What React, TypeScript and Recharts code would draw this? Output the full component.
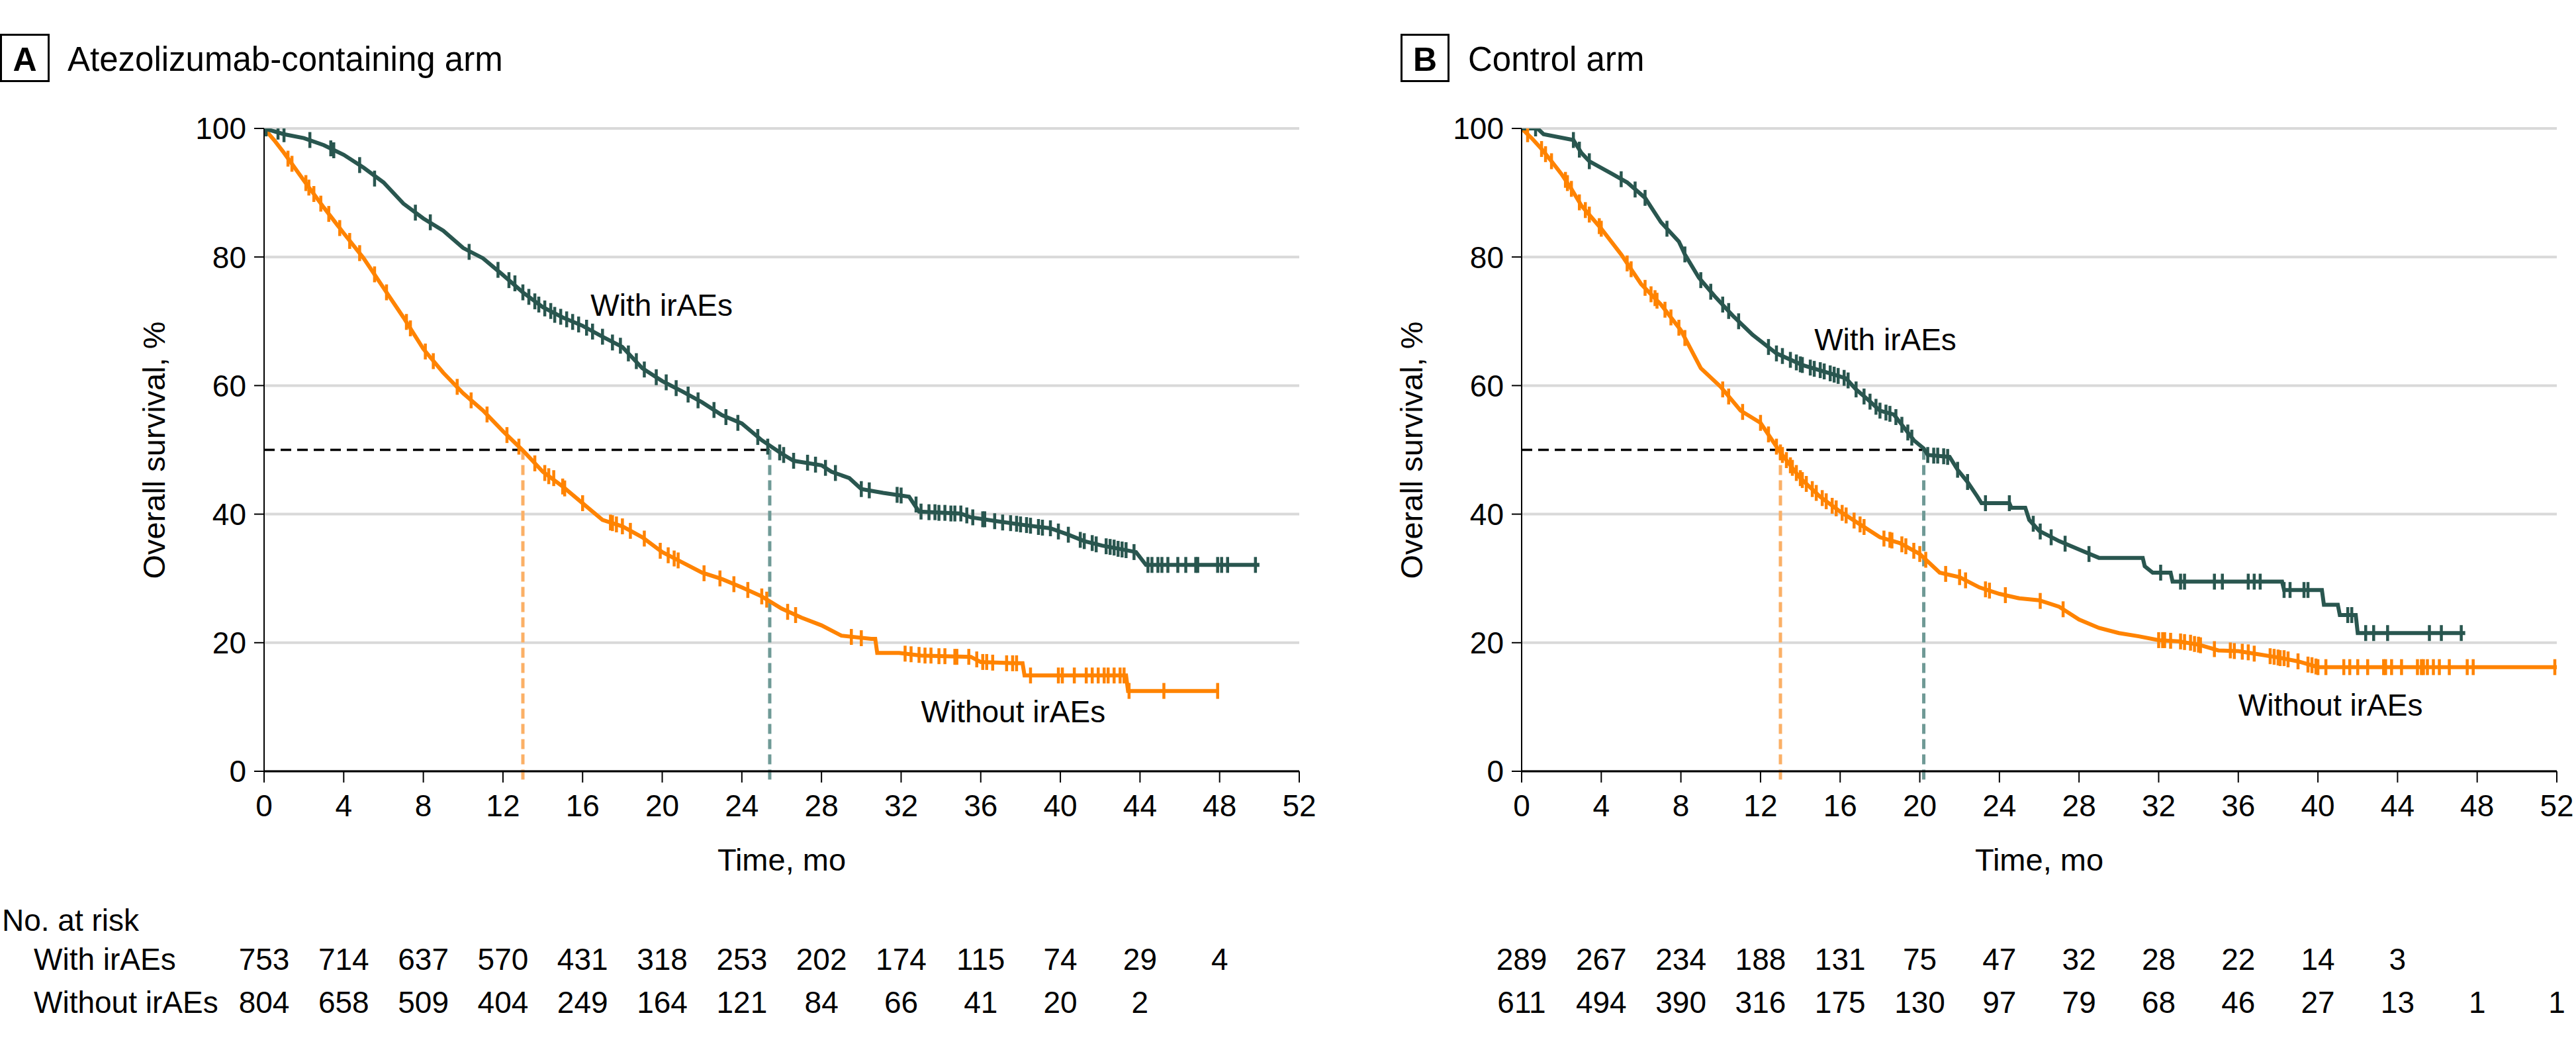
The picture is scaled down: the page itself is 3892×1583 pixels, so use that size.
import React from "react";
import {
  ComposedChart, Line, Scatter, XAxis, YAxis, CartesianGrid, ReferenceLine, ReferenceDot,
} from "recharts";

const FONT = '"Liberation Sans", Arial, sans-serif';
const TEAL = "#29564f";
const ORANGE = "#ff8300";
const TEAL_DASH = "#6f9a96";
const ORANGE_DASH = "#fbb066";

const MONTHS = [0, 4, 8, 12, 16, 20, 24, 28, 32, 36, 40, 44, 48, 52];
const PCT = [0, 20, 40, 60, 80, 100];

// Kaplan-Meier curves: [month, % surviving]
const atezoWith: [number, number][] = [
  [0, 100], [1, 99.1], [2, 98.5], [3, 97.4], [4, 95.9], [5, 93.9], [6, 91.6], [7, 88.3], [8, 86.0],
  [9, 84.1], [10, 81.4], [11, 79.8], [12, 77.2], [13, 74.5], [14, 72.2], [15, 70.6], [16, 69.3],
  [17, 67.6], [18, 66.0], [19, 62.7], [20, 60.7], [21, 59.1], [22, 57.4], [23, 55.4], [24, 54.1],
  [25, 51.5], [26, 49.4], [26.6, 48.3], [28, 47.6], [28.5, 46.6], [29.4, 45.6], [30, 43.9],
  [31.1, 43.3], [32.4, 42.7], [32.9, 40.4], [35, 40.1], [35.5, 39.5], [36.8, 38.9], [38.2, 38.3],
  [39.5, 37.8], [40.4, 36.8], [41.2, 35.8], [42.1, 35.1], [43.8, 34.1], [44.3, 32.1], [50, 32.1],
];
const atezoWithout: [number, number][] = [
  [0, 100], [0.5, 98.2], [1, 96.2], [2, 91.9], [3, 87.7], [4, 83.7], [5, 79.8], [6, 75.2], [7, 70.6],
  [8, 65.7], [9, 62.0], [10, 58.8], [11, 56.1], [12, 52.9], [13, 49.9], [14, 46.6], [15, 44.3],
  [16, 41.7], [17, 39.1], [18, 38.1], [19, 36.4], [20, 34.1], [21, 32.5], [22, 30.9], [23, 29.9],
  [24, 28.6], [25, 27.2], [26, 25.3], [27, 23.9], [28, 22.7], [29, 21.1], [30.5, 20.6], [30.7, 20.6],
  [30.8, 18.4], [31.9, 18.4], [33, 18.0], [35.5, 17.8], [36, 17.0], [37.8, 16.8], [38.1, 16.8],
  [38.2, 14.9], [43.3, 14.9], [43.4, 12.5], [47.9, 12.5],
];
const controlWith: [number, number][] = [
  [0, 100], [0.8, 100], [1.1, 99.1], [2.6, 98.2], [3.0, 96.2], [3.4, 94.9], [4.5, 93.0], [5.3, 91.6],
  [6.2, 89.2], [7.0, 85.4], [7.9, 82.4], [8.2, 80.4], [8.9, 76.8], [9.7, 73.9], [10.6, 70.9],
  [11.6, 67.9], [12.8, 65.0], [14.1, 63.2], [15.7, 61.7], [16.3, 61.1], [16.8, 59.4], [17.4, 57.8],
  [18.0, 56.1], [18.7, 55.5], [19.2, 53.5], [19.7, 51.5], [20.2, 50.2], [20.4, 49.2], [21.5, 48.9],
  [21.9, 46.9], [22.4, 45.0], [22.9, 42.7], [23.1, 41.7], [24.5, 41.7], [24.6, 41.0], [25.3, 41.0],
  [25.5, 39.1], [26, 37.4], [27, 35.8], [28, 34.5], [29, 33.2], [31.2, 33.2], [31.3, 31.9],
  [31.7, 30.9], [32.6, 30.9], [32.7, 29.5], [38.2, 29.5], [38.3, 28.2], [40.2, 28.2], [40.3, 25.9],
  [41.0, 25.9], [41.1, 24.3], [41.9, 24.3], [42.0, 21.5], [47.4, 21.5],
];
const controlWithout: [number, number][] = [
  [0, 100], [0.5, 98.5], [1, 96.8], [1.5, 94.9], [2, 92.9], [2.5, 90.6], [3, 88.0], [4, 84.4],
  [5, 80.4], [6, 75.8], [7, 72.6], [8, 68.6], [9, 62.7], [10, 59.8], [11, 56.1], [12, 54.2],
  [13, 49.6], [14, 45.6], [15, 42.7], [16, 40.4], [17, 38.4], [18, 36.4], [19, 35.5], [20, 33.8],
  [21, 30.9], [22, 30.2], [23, 28.6], [24, 27.6], [25, 26.9], [26, 26.6], [27, 25.6], [28, 23.6],
  [29, 22.3], [30, 21.5], [31, 21.0], [32, 20.4], [33, 20.2], [34, 19.7], [35, 18.8], [36, 18.7],
  [37, 18.2], [38, 17.7], [39, 17.1], [40, 16.2], [52, 16.2],
];

// censored observations (tick marks): [month, %]
const atezoWithCens: [number, number][] = [
  [0.1, 100], [0.7, 99.5], [1.0, 99.1], [2.3, 98.2], [3.35, 96.9], [3.5, 96.6], [4.8, 94.3],
  [5.55, 92.2], [7.6, 86.9], [8.35, 85.4], [10.3, 80.8], [11.75, 78.0], [12.3, 76.4], [12.6, 75.9],
  [13.0, 74.5], [13.3, 73.8], [13.6, 73.1], [13.8, 72.6], [14.1, 72.0], [14.4, 71.6], [14.6, 71.0],
  [14.9, 70.7], [15.2, 70.3], [15.5, 69.9], [15.8, 69.5], [16.2, 69.0], [16.5, 68.4], [17.0, 67.6],
  [17.5, 66.7], [17.9, 66.2], [18.3, 65.0], [18.7, 63.8], [19.1, 62.5], [19.7, 61.3], [20.2, 60.5],
  [20.7, 59.6], [21.3, 58.6], [21.8, 57.7], [22.6, 56.2], [23.2, 55.1], [23.8, 54.2], [24.8, 52.0],
  [25.3, 50.5], [25.9, 49.6], [26.1, 49.2], [26.6, 48.3], [27.3, 48.0], [27.7, 47.7], [28.2, 47.2],
  [28.7, 46.4], [30.0, 43.9], [30.4, 43.7], [31.8, 43.0], [32.0, 42.9], [32.75, 41.5], [33.0, 40.4],
  [33.4, 40.3], [33.7, 40.3], [33.9, 40.2], [34.2, 40.2], [34.5, 40.1], [34.7, 40.1], [35.0, 40.1],
  [35.3, 39.8], [35.6, 39.5], [36.1, 39.2], [36.2, 39.2], [36.7, 38.9], [37.1, 38.7], [37.5, 38.6],
  [37.8, 38.5], [38.0, 38.4], [38.3, 38.3], [38.5, 38.2], [38.9, 38.0], [39.1, 37.9], [39.5, 37.8],
  [39.9, 37.3], [40.4, 36.8], [41.0, 36.0], [41.2, 35.8], [41.6, 35.5], [41.8, 35.3], [42.3, 35.0],
  [42.5, 34.9], [42.7, 34.8], [42.9, 34.6], [43.1, 34.5], [43.3, 34.4], [43.7, 34.1], [44.4, 32.1],
  [44.6, 32.1], [44.9, 32.1], [45.1, 32.1], [45.4, 32.1], [45.9, 32.1], [46.3, 32.1], [46.8, 32.1],
  [46.9, 32.1], [47.9, 32.1], [48.1, 32.1], [48.4, 32.1], [49.8, 32.1],
];
const atezoWithoutCens: [number, number][] = [
  [1.2, 95.3], [1.4, 94.5], [2.1, 91.5], [2.25, 90.8], [2.5, 89.8], [2.85, 88.3], [3.25, 86.7],
  [3.8, 84.5], [4.3, 82.5], [4.8, 80.6], [5.55, 77.3], [6.15, 74.5], [7.15, 69.9], [7.35, 68.9],
  [8.1, 65.3], [8.5, 63.8], [9.7, 59.8], [10.4, 57.7], [11.2, 55.5], [12.2, 52.3], [12.8, 50.5],
  [13.6, 47.9], [14.1, 46.4], [14.3, 45.9], [14.55, 45.6], [15.0, 44.3], [15.1, 44.0], [16.0, 41.7],
  [17.4, 38.7], [17.5, 38.6], [17.7, 38.4], [18.0, 38.1], [18.4, 37.4], [19.1, 36.2], [19.9, 34.3],
  [20.3, 33.6], [20.6, 33.1], [20.8, 32.8], [22.1, 30.8], [22.9, 30.0], [23.6, 29.1], [24.3, 28.2],
  [25.0, 27.2], [25.25, 26.7], [26.3, 24.8], [26.7, 24.3], [29.5, 20.9], [30.0, 20.7], [32.2, 18.3],
  [32.5, 18.2], [32.9, 18.1], [33.2, 18.0], [33.5, 18.0], [33.9, 17.9], [34.2, 17.9], [34.7, 17.8],
  [34.8, 17.8], [35.4, 17.8], [35.8, 17.4], [36.1, 17.0], [36.3, 17.0], [36.6, 16.9], [37.3, 16.8],
  [37.6, 16.8], [37.8, 16.8], [38.5, 14.9], [39.9, 14.9], [40.1, 14.9], [40.7, 14.9], [41.3, 14.9],
  [41.6, 14.9], [41.9, 14.9], [42.2, 14.9], [42.4, 14.9], [42.7, 14.9], [43.0, 14.9], [43.2, 14.9],
  [43.45, 12.5], [45.2, 12.5], [47.9, 12.5],
];
const controlWithCens: [number, number][] = [
  [0.7, 100], [2.6, 98.2], [2.9, 96.7], [3.4, 94.9], [5.0, 92.1], [5.7, 90.5], [6.2, 89.2],
  [7.3, 84.4], [8.2, 80.4], [9.0, 76.4], [9.5, 74.6], [10.1, 72.6], [10.4, 71.6], [10.9, 70.0],
  [12.4, 66.0], [12.8, 65.0], [13.1, 64.6], [13.5, 64.0], [13.8, 63.6], [14.0, 63.3], [14.1, 63.2],
  [14.5, 62.8], [14.7, 62.6], [15.0, 62.4], [15.2, 62.2], [15.5, 61.9], [15.7, 61.7], [15.9, 61.5],
  [16.2, 61.2], [16.4, 60.8], [16.8, 59.4], [17.2, 58.3], [17.5, 57.5], [17.8, 56.7], [18.0, 56.1],
  [18.3, 55.8], [18.5, 55.6], [18.8, 55.1], [19.1, 53.9], [19.4, 52.7], [19.6, 51.9], [20.4, 49.2],
  [20.7, 49.1], [20.9, 49.1], [21.2, 49.0], [21.4, 48.9], [21.9, 46.9], [22.4, 45.0], [23.3, 41.7],
  [24.5, 41.7], [25.7, 38.5], [26.05, 37.3], [26.6, 36.4], [27.3, 35.4], [28.5, 33.8], [32.1, 30.9],
  [33.1, 29.5], [33.3, 29.5], [34.8, 29.5], [35.2, 29.5], [36.5, 29.5], [36.8, 29.5], [37.1, 29.5],
  [38.3, 28.2], [38.6, 28.2], [39.3, 28.2], [39.5, 28.2], [41.5, 24.3], [41.7, 24.3], [42.4, 21.5],
  [42.8, 21.5], [43.5, 21.5], [45.6, 21.5], [46.2, 21.5], [47.2, 21.5],
];
const controlWithoutCens: [number, number][] = [
  [0.3, 99.1], [1.0, 96.8], [1.2, 96.0], [1.5, 94.9], [2.2, 92.0], [2.3, 91.5], [2.5, 90.6],
  [2.9, 88.5], [3.2, 87.3], [3.4, 86.6], [3.9, 84.8], [4.0, 84.4], [5.3, 79.0], [5.5, 78.1],
  [6.2, 75.2], [6.5, 74.2], [6.7, 73.6], [6.8, 73.2], [7.2, 71.8], [7.5, 70.6], [7.9, 69.0],
  [8.2, 67.4], [10.1, 59.4], [10.4, 58.3], [11.1, 55.9], [12.0, 54.2], [12.4, 52.4], [12.8, 50.5],
  [13.0, 49.6], [13.1, 49.2], [13.3, 48.4], [13.5, 47.6], [13.6, 47.2], [13.8, 46.4], [14.0, 45.6],
  [14.1, 45.3], [14.3, 44.7], [14.6, 43.9], [14.8, 43.3], [15.1, 42.5], [15.3, 42.0], [15.6, 41.3],
  [15.8, 40.9], [16.1, 40.2], [16.3, 39.8], [16.7, 39.0], [17.0, 38.4], [17.2, 38.0], [18.2, 36.2],
  [18.5, 36.0], [18.6, 35.9], [19.1, 35.3], [19.3, 35.0], [19.7, 34.3], [20.0, 33.8], [20.3, 32.9],
  [21.3, 30.7], [22.0, 30.2], [22.3, 29.7], [23.3, 28.3], [23.5, 28.1], [24.3, 27.4], [26.05, 26.5],
  [27.2, 25.2], [32.0, 20.4], [32.2, 20.4], [32.3, 20.4], [32.6, 20.3], [33.1, 20.2], [33.3, 20.1],
  [33.6, 20.0], [33.8, 19.8], [34.0, 19.7], [34.1, 19.6], [34.8, 19.0], [35.6, 18.8], [35.8, 18.7],
  [36.2, 18.6], [36.5, 18.5], [36.8, 18.3], [37.6, 17.9], [37.8, 17.8], [38.0, 17.7], [38.1, 17.6],
  [38.3, 17.6], [38.5, 17.4], [39.0, 17.1], [39.5, 16.6], [39.7, 16.5], [39.9, 16.3], [40.0, 16.2],
  [40.4, 16.2], [41.3, 16.2], [41.6, 16.2], [42.0, 16.2], [42.5, 16.2], [43.3, 16.2], [43.4, 16.2],
  [43.7, 16.2], [44.2, 16.2], [45.0, 16.2], [45.2, 16.2], [45.3, 16.2], [45.5, 16.2], [45.8, 16.2],
  [46.1, 16.2], [46.6, 16.2], [47.5, 16.2], [47.8, 16.2], [51.9, 16.2],
];

// number at risk, every 4 months
const riskAtezoWith = [753, 714, 637, 570, 431, 318, 253, 202, 174, 115, 74, 29, 4];
const riskAtezoWithout = [804, 658, 509, 404, 249, 164, 121, 84, 66, 41, 20, 2];
const riskControlWith = [289, 267, 234, 188, 131, 75, 47, 32, 28, 22, 14, 3];
const riskControlWithout = [611, 494, 390, 316, 175, 130, 97, 79, 68, 46, 27, 13, 1, 1];

// median OS, months
const medAtezo = { with: 25.4, without: 13.0 };
const medControl = { with: 20.2, without: 13.0 };

const rows = (a: [number, number][]) => a.map(([t, s]) => ({ t, s }));

const censorShape = (color: string) => (p: any) => (
  <line x1={p.cx} x2={p.cx} y1={p.cy - 12} y2={p.cy + 12} stroke={color} strokeWidth={4.5} />
);

const curveLabel = (txt: string) => (p: any) => (
  <text x={p.cx} y={p.cy} fontSize={46} fill="#000" textAnchor="start">{txt}</text>
);

function Panel(props: any) {
  const {
    left, width, mLeft, mRight, withCurve, withoutCurve, withCens, withoutCens,
    riskWith, riskWithout, med, withPos, withoutPos,
  } = props;
  const tick = { fontSize: 46, fill: "#000" };
  return (
    <div style={{ position: "absolute", left, top: 0, fontFamily: FONT }}>
      <ComposedChart width={width} height={1583} margin={{ top: 194, right: mRight, bottom: 28, left: mLeft }}>
        <CartesianGrid vertical={false} stroke="#d9d9d9" strokeWidth={4} />
        <XAxis
          dataKey="t" type="number" domain={[0, 52]} ticks={MONTHS} interval={0} allowDataOverflow
          height={260} tickSize={17} tickMargin={18} tick={tick}
          axisLine={{ stroke: "#000", strokeWidth: 3 }} tickLine={{ stroke: "#000", strokeWidth: 2 }}
        />
        <XAxis
          xAxisId="r1" dataKey="t" type="number" domain={[0, 52]} allowDataOverflow interval={0}
          ticks={MONTHS.slice(0, riskWith.length)} tickFormatter={(v: number) => String(riskWith[v / 4])}
          height={65} axisLine={false} tickLine={false} tickSize={0} tickMargin={7} tick={tick}
        />
        <XAxis
          xAxisId="r2" dataKey="t" type="number" domain={[0, 52]} allowDataOverflow interval={0}
          ticks={MONTHS.slice(0, riskWithout.length)} tickFormatter={(v: number) => String(riskWithout[v / 4])}
          height={65} axisLine={false} tickLine={false} tickSize={0} tickMargin={7} tick={tick}
        />
        <YAxis
          dataKey="s" type="number" domain={[0, 100]} ticks={PCT} interval={0} allowDataOverflow
          width={120} tickSize={15} tickMargin={12} tick={tick}
          axisLine={{ stroke: "#000", strokeWidth: 2 }} tickLine={{ stroke: "#000", strokeWidth: 2 }}
        />
        <ReferenceLine
          segment={[{ x: 0, y: 50 }, { x: med.with, y: 50 }]} ifOverflow="visible"
          stroke="#000" strokeWidth={3.5} strokeDasharray="16 9"
        />
        <ReferenceLine
          segment={[{ x: med.without, y: 50 }, { x: med.without, y: -1.4 }]} ifOverflow="visible"
          stroke={ORANGE_DASH} strokeWidth={5} strokeDasharray="15 8"
        />
        <ReferenceLine
          segment={[{ x: med.with, y: 50 }, { x: med.with, y: -1.4 }]} ifOverflow="visible"
          stroke={TEAL_DASH} strokeWidth={5} strokeDasharray="15 8"
        />
        <Line data={rows(withoutCurve)} dataKey="s" type="linear" stroke={ORANGE} strokeWidth={6} dot={false} isAnimationActive={false} />
        <Line data={rows(withCurve)} dataKey="s" type="linear" stroke={TEAL} strokeWidth={6} dot={false} isAnimationActive={false} />
        <Scatter data={rows(withoutCens)} dataKey="s" shape={censorShape(ORANGE)} isAnimationActive={false} />
        <Scatter data={rows(withCens)} dataKey="s" shape={censorShape(TEAL)} isAnimationActive={false} />
        <ReferenceDot x={withPos[0]} y={withPos[1]} r={0} shape={curveLabel("With irAEs")} />
        <ReferenceDot x={withoutPos[0]} y={withoutPos[1]} r={0} shape={curveLabel("Without irAEs")} />
      </ComposedChart>
    </div>
  );
}

function Titles() {
  const t = { fontFamily: FONT, fill: "#000" } as const;
  return (
    <svg width={3892} height={1583} style={{ position: "absolute", left: 0, top: 0, pointerEvents: "none" }}>
      <rect x={1.5} y={52.5} width={72} height={70} fill="none" stroke="#000" strokeWidth={3} />
      <text {...t} x={37.5} y={107} fontSize={50} fontWeight="bold" textAnchor="middle">A</text>
      <text {...t} x={102} y={107} fontSize={51}>Atezolizumab-containing arm</text>
      <rect x={2117.5} y={52.5} width={71} height={70} fill="none" stroke="#000" strokeWidth={3} />
      <text {...t} x={2153} y={107} fontSize={50} fontWeight="bold" textAnchor="middle">B</text>
      <text {...t} x={2218} y={107} fontSize={51}>Control arm</text>

      <text {...t} x={249} y={680} fontSize={47} textAnchor="middle" transform="rotate(-90 249 680)">Overall survival, %</text>
      <text {...t} x={2149} y={680} fontSize={47} textAnchor="middle" transform="rotate(-90 2149 680)">Overall survival, %</text>
      <text {...t} x={1181} y={1315} fontSize={47} textAnchor="middle">Time, mo</text>
      <text {...t} x={3081} y={1315} fontSize={47} textAnchor="middle">Time, mo</text>

      <text {...t} x={3} y={1406} fontSize={46}>No. at risk</text>
      <text {...t} x={51} y={1465} fontSize={46}>With irAEs</text>
      <text {...t} x={51} y={1530} fontSize={46}>Without irAEs</text>
    </svg>
  );
}

export default function App() {
  return (
    <div style={{ position: "absolute", left: 0, top: 0, width: 3892, height: 1583, background: "#fff", overflow: "hidden" }}>
      <Panel
        left={0} width={2000} mLeft={279} mRight={37}
        withCurve={atezoWith} withoutCurve={atezoWithout}
        withCens={atezoWithCens} withoutCens={atezoWithoutCens}
        riskWith={riskAtezoWith} riskWithout={riskAtezoWithout}
        med={medAtezo} withPos={[16.4, 70.9]} withoutPos={[33.0, 7.6]}
      />
      <Panel
        left={1990} width={1902} mLeft={189} mRight={29}
        withCurve={controlWith} withoutCurve={controlWithout}
        withCens={controlWithCens} withoutCens={controlWithoutCens}
        riskWith={riskControlWith} riskWithout={riskControlWithout}
        med={medControl} withPos={[14.7, 65.5]} withoutPos={[36.0, 8.7]}
      />
      <Titles />
    </div>
  );
}
